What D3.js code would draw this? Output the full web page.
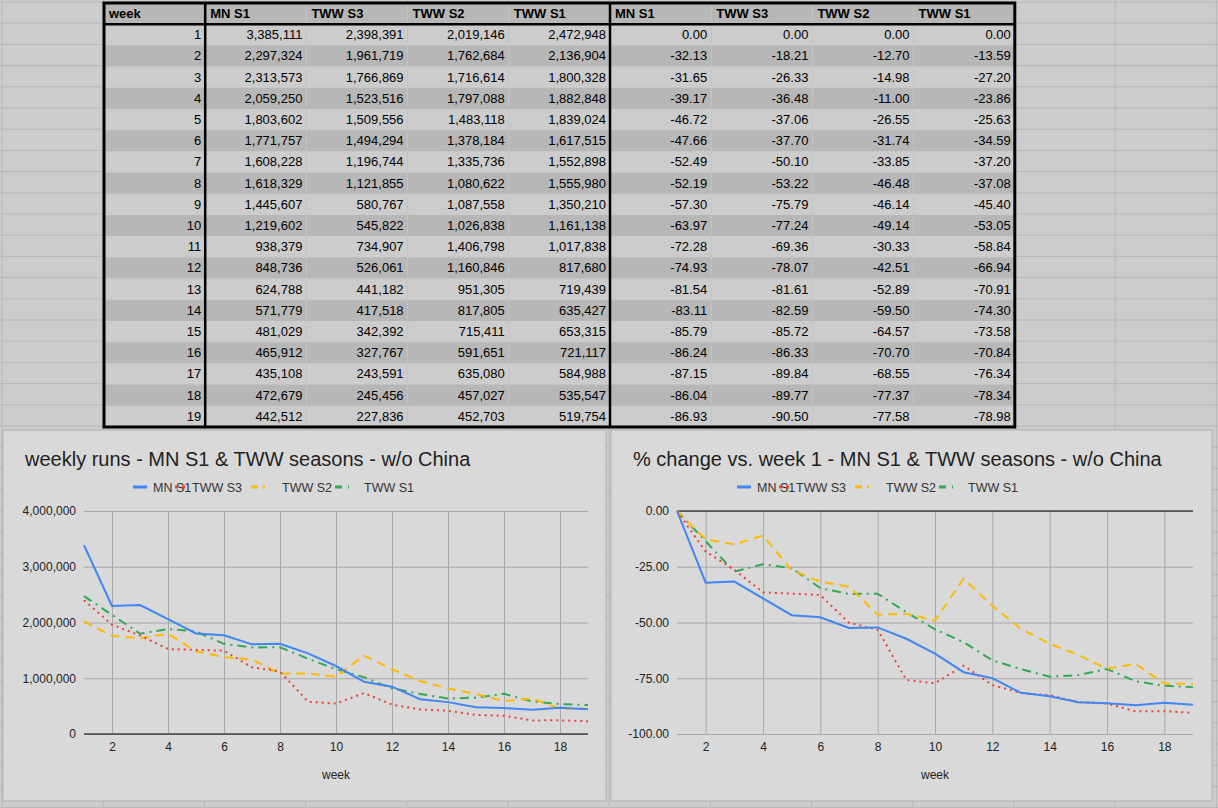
<!DOCTYPE html>
<html>
<head>
<meta charset="utf-8">
<script src="https://cdn.jsdelivr.net/npm/d3@7"></script>
<style>
  body { margin: 0; background: #cccccc; }
  svg { font-family: "Liberation Sans", Arial, sans-serif; display: block; }
</style>
</head>
<body>
<svg id="sheet" width="1218" height="808"></svg>
<script>
// ---- data ----
const weeks = d3.range(1, 20)
const seriesNames = ["MN S1", "TWW S3", "TWW S2", "TWW S1"]
const mnS1 = [3385111, 2297324, 2313573, 2059250, 1803602, 1771757, 1608228, 1618329, 1445607, 1219602, 938379, 848736, 624788, 571779, 481029, 465912, 435108, 472679, 442512]
const twwS3 = [2398391, 1961719, 1766869, 1523516, 1509556, 1494294, 1196744, 1121855, 580767, 545822, 734907, 526061, 441182, 417518, 342392, 327767, 243591, 245456, 227836]
const twwS2 = [2019146, 1762684, 1716614, 1797088, 1483118, 1378184, 1335736, 1080622, 1087558, 1026838, 1406798, 1160846, 951305, 817805, 715411, 591651, 635080, 457027, 452703]
const twwS1 = [2472948, 2136904, 1800328, 1882848, 1839024, 1617515, 1552898, 1555980, 1350210, 1161138, 1017838, 817680, 719439, 635427, 653315, 721117, 584988, 535547, 519754]
const pctMn = [0.00, -32.13, -31.65, -39.17, -46.72, -47.66, -52.49, -52.19, -57.30, -63.97, -72.28, -74.93, -81.54, -83.11, -85.79, -86.24, -87.15, -86.04, -86.93]
const pctS3 = [0.00, -18.21, -26.33, -36.48, -37.06, -37.70, -50.10, -53.22, -75.79, -77.24, -69.36, -78.07, -81.61, -82.59, -85.72, -86.33, -89.84, -89.77, -90.50]
const pctS2 = [0.00, -12.70, -14.98, -11.00, -26.55, -31.74, -33.85, -46.48, -46.14, -49.14, -30.33, -42.51, -52.89, -59.50, -64.57, -70.70, -68.55, -77.37, -77.58]
const pctS1 = [0.00, -13.59, -27.20, -23.86, -25.63, -34.59, -37.20, -37.08, -45.40, -53.05, -58.84, -66.94, -70.91, -74.30, -73.58, -70.84, -76.34, -78.34, -78.98]
const runsTicks = [0, 1000000, 2000000, 3000000, 4000000]
const pctTicks = [0, -25, -50, -75, -100]
const weekTicks = [2, 4, 6, 8, 10, 12, 14, 16, 18]

const colors = ["#4285f4", "#ea4335", "#fbbc04", "#34a853"]
const dashes = [null, "2,4", "9,6", "9,5,2,5"]
const legendDash = [null, "3,4", "7,5", "7,6,2"]
const legendMarkX = [0, 42, 118, 202]
const legendTextX = [20, 59, 149, 231]

const svg = d3.select("#sheet")

// spreadsheet background grid
const bg = svg.append("g")
d3.range(0, 808, 21.2).forEach(y => bg.append("line").attr("x1", 0).attr("x2", 1218).attr("y1", y + 2).attr("y2", y + 2).attr("stroke", "#b8b8b8"))
d3.range(0, 1218, 101.2).forEach(x => bg.append("line").attr("x1", x + 2).attr("x2", x + 2).attr("y1", 0).attr("y2", 808).attr("stroke", "#b8b8b8"))

// ---- table ----
const tX = 104, tY = 3, rowH = 21.2, colW = 101.2
const header = ["week"].concat(seriesNames, seriesNames)
const fmt = d3.format(",")
const fmt2 = v => d3.format(".2f")(v).replace("−", "-")
const rows = weeks.map((w, i) => [String(w), fmt(mnS1[i]), fmt(twwS3[i]), fmt(twwS2[i]), fmt(twwS1[i]),
  fmt2(pctMn[i]), fmt2(pctS3[i]), fmt2(pctS2[i]), fmt2(pctS1[i])])

const table = svg.append("g")
table.append("rect").attr("x", tX).attr("y", tY).attr("width", colW * 9).attr("height", rowH).attr("fill", "#b7b7b7")
header.forEach((h, j) => {
  table.append("text").attr("x", tX + j * colW + 5).attr("y", tY + 15).attr("font-size", 13).attr("font-weight", "bold").text(h)
})
rows.forEach((r, i) => {
  const y = tY + rowH * (i + 1)
  table.append("rect").attr("x", tX).attr("y", y).attr("width", colW * 9).attr("height", rowH)
    .attr("fill", i % 2 == 0 ? "#cccccc" : "#b7b7b7")
  r.forEach((v, j) => {
    table.append("text").attr("x", tX + (j + 1) * colW - 4).attr("y", y + 15).attr("font-size", 13)
      .attr("text-anchor", "end").text(v)
  })
})
d3.range(1, 9).forEach(j => {
  table.append("line").attr("x1", tX + j * colW).attr("x2", tX + j * colW).attr("y1", tY).attr("y2", tY + rowH * 20)
    .attr("stroke", j == 1 || j == 5 ? "#000" : "#c4c4c4").attr("stroke-width", j == 1 || j == 5 ? 2.5 : 1)
})
table.append("line").attr("x1", tX).attr("x2", tX + colW * 9).attr("y1", tY + rowH).attr("y2", tY + rowH).attr("stroke", "#000").attr("stroke-width", 2.5)
table.append("rect").attr("x", tX).attr("y", tY).attr("width", colW * 9).attr("height", rowH * 20)
  .attr("fill", "none").attr("stroke", "#000").attr("stroke-width", 3)

// ---- charts ----
function drawChart(opts) {
  const g = svg.append("g").attr("transform", "translate(" + opts.x + "," + opts.y + ")")
  g.append("rect").attr("width", opts.w).attr("height", opts.h).attr("fill", "#d9d9d9").attr("stroke", "#b0b0b0")
  g.append("text").attr("x", 22).attr("y", 36).attr("font-size", 20).attr("fill", "#222").text(opts.title)

  // legend
  const legend = g.append("g").attr("transform", "translate(" + opts.legendX + ",57)")
  seriesNames.forEach((n, i) => {
    const lx = legendMarkX[i]
    legend.append("line").attr("x1", lx).attr("x2", lx + 14).attr("y1", 0).attr("y2", 0)
      .attr("stroke", colors[i]).attr("stroke-width", 3).attr("stroke-dasharray", legendDash[i])
    legend.append("text").attr("x", legendTextX[i]).attr("y", 4.5).attr("font-size", 12.5).attr("fill", "#333").text(n)
  })

  const x = d3.scaleLinear().domain([1, 19]).range([opts.left, opts.right])
  const y = d3.scaleLinear().domain(opts.domain).range([opts.bottom, opts.top])

  const yAxis = g.append("g").attr("transform", "translate(" + opts.left + ",0)")
    .call(d3.axisLeft(y).tickValues(opts.yTicks).tickFormat(opts.yFormat).tickSize(-(opts.right - opts.left)).tickPadding(8))
  yAxis.select(".domain").remove()
  yAxis.selectAll(".tick line").attr("stroke", "#a8a8a8")
  yAxis.selectAll("text").attr("font-size", 12).attr("fill", "#222")

  const xAxis = g.append("g").attr("transform", "translate(0," + opts.bottom + ")")
    .call(d3.axisBottom(x).tickValues(weekTicks).tickSize(-(opts.bottom - opts.top)).tickPadding(8))
  xAxis.select(".domain").remove()
  xAxis.selectAll(".tick line").attr("stroke", "#a8a8a8")
  xAxis.selectAll("text").attr("font-size", 12).attr("fill", "#222")

  g.append("line").attr("x1", opts.left).attr("x2", opts.right).attr("y1", y(0)).attr("y2", y(0)).attr("stroke", "#000")

  g.append("text").attr("x", (opts.left + opts.right) / 2).attr("y", opts.bottom + 45)
    .attr("text-anchor", "middle").attr("font-size", 12).attr("fill", "#222").text("week")

  const line = d3.line().x((d, i) => x(weeks[i])).y(d => y(d))
  ;[3, 2, 1, 0].forEach(i => {
    g.append("path").datum(opts.series[i]).attr("d", line).attr("fill", "none")
      .attr("stroke", colors[i]).attr("stroke-width", 2).attr("stroke-dasharray", dashes[i])
  })
}

drawChart({
  x: 3, y: 430, w: 603, h: 371,
  title: "weekly runs - MN S1 & TWW seasons - w/o China",
  legendX: 130,
  left: 81, right: 585, top: 81, bottom: 304,
  domain: [0, 4000000], yTicks: runsTicks, yFormat: d3.format(","),
  series: [mnS1, twwS3, twwS2, twwS1]
})

drawChart({
  x: 611, y: 430, w: 601, h: 371,
  title: "% change vs. week 1 - MN S1 & TWW seasons - w/o China",
  legendX: 126,
  left: 66, right: 582, top: 81, bottom: 304,
  domain: [-100, 0], yTicks: pctTicks, yFormat: fmt2,
  series: [pctMn, pctS3, pctS2, pctS1]
})
</script>
</body>
</html>
